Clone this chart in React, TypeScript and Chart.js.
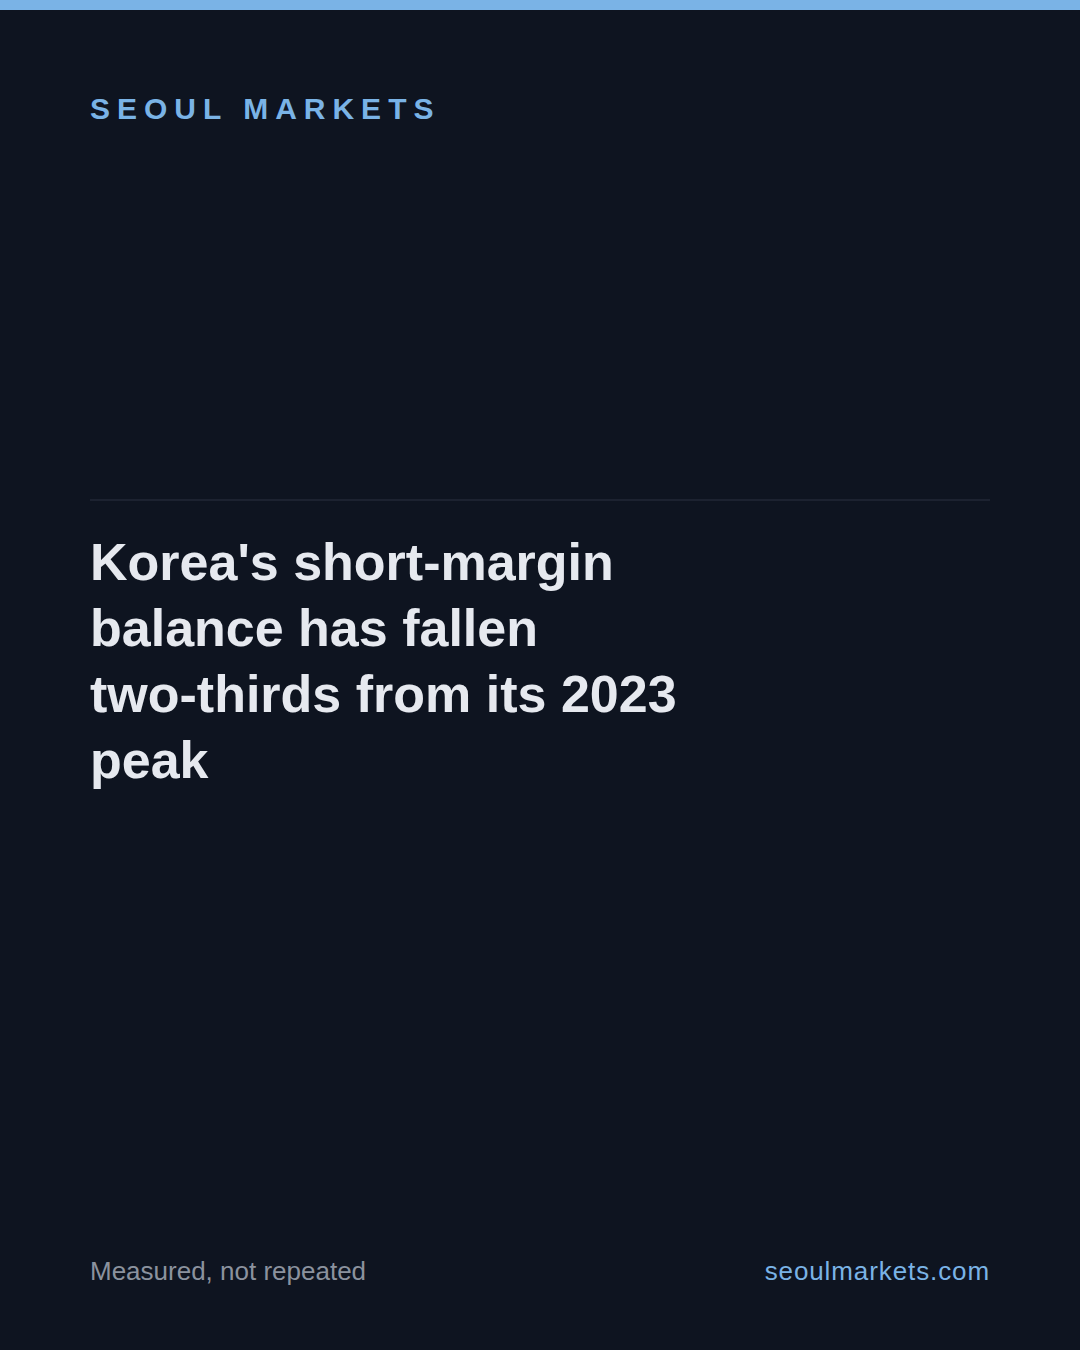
import React, { useEffect, useRef } from 'react';
import Chart from 'chart.js/auto';

// The reference card shows no plotted marks: the chart area is empty.
const categories: string[] = [];
const balance: number[] = [];

const kicker = 'SEOUL MARKETS';
const headline = "Korea's short-margin balance has fallen two-thirds from its 2023 peak";
const footLeft = 'Measured, not repeated';
const footRight = 'seoulmarkets.com';

const BG = '#0e1420';
const ACCENT = '#7ab3e6';
const FONT = '"Liberation Sans", Arial, Helvetica, sans-serif';

const EmptyChart: React.FC = () => {
    const chartRef = useRef<HTMLCanvasElement>(null);

    useEffect(() => {
        if (!chartRef.current) return;
        const ctx = chartRef.current.getContext('2d');
        if (!ctx) return;
        const chart = new Chart(ctx, {
            type: 'line',
            data: {
                labels: categories,
                datasets: [
                    {
                        label: 'Short-margin balance',
                        data: balance,
                        borderColor: ACCENT,
                        pointRadius: 0,
                    },
                ],
            },
            options: {
                animation: false,
                responsive: false,
                plugins: {
                    legend: { display: false },
                    tooltip: { enabled: false },
                },
                scales: {
                    x: { display: false },
                    y: { display: false },
                },
            },
        });
        return () => {
            chart.destroy();
        };
    }, []);

    return <canvas ref={chartRef} width={900} height={330} style={{ display: 'block' }} />;
};

export default function App() {
    useEffect(() => {
        document.body.style.margin = '0';
        document.body.style.background = BG;
    }, []);

    // break only at spaces, never after the hyphens
    const words = headline.split(' ');

    return (
        <div
            style={{
                position: 'relative',
                width: 1080,
                height: 1350,
                background: BG,
                fontFamily: FONT,
                overflow: 'hidden',
            }}
        >
            <div style={{ position: 'absolute', left: 0, top: 0, width: 1080, height: 10, background: ACCENT }} />
            <div
                style={{
                    position: 'absolute',
                    left: 90,
                    top: 94,
                    fontSize: 30,
                    lineHeight: 1,
                    fontWeight: 700,
                    letterSpacing: 7.0,
                    color: ACCENT,
                    whiteSpace: 'nowrap',
                }}
            >
                {kicker}
            </div>
            <div style={{ position: 'absolute', left: 90, top: 150 }}>
                <EmptyChart />
            </div>
            <div style={{ position: 'absolute', left: 90, top: 499, width: 900, height: 2, background: '#1c2230' }} />
            <div
                style={{
                    position: 'absolute',
                    left: 90,
                    top: 529,
                    width: 700,
                    fontSize: 52,
                    lineHeight: '66px',
                    fontWeight: 700,
                    color: '#e6e9ef',
                }}
            >
                {words.map((w, i) => (
                    <React.Fragment key={i}>
                        <span style={{ whiteSpace: 'nowrap' }}>{w}</span>
                        {i < words.length - 1 ? ' ' : null}
                    </React.Fragment>
                ))}
            </div>
            <div
                style={{
                    position: 'absolute',
                    left: 90,
                    top: 1256,
                    fontSize: 26,
                    lineHeight: '30px',
                    color: '#8b929e',
                    whiteSpace: 'nowrap',
                }}
            >
                {footLeft}
            </div>
            <div
                style={{
                    position: 'absolute',
                    right: 90,
                    top: 1256,
                    fontSize: 26,
                    lineHeight: '30px',
                    letterSpacing: 0.9,
                    color: ACCENT,
                    whiteSpace: 'nowrap',
                }}
            >
                {footRight}
            </div>
        </div>
    );
}
